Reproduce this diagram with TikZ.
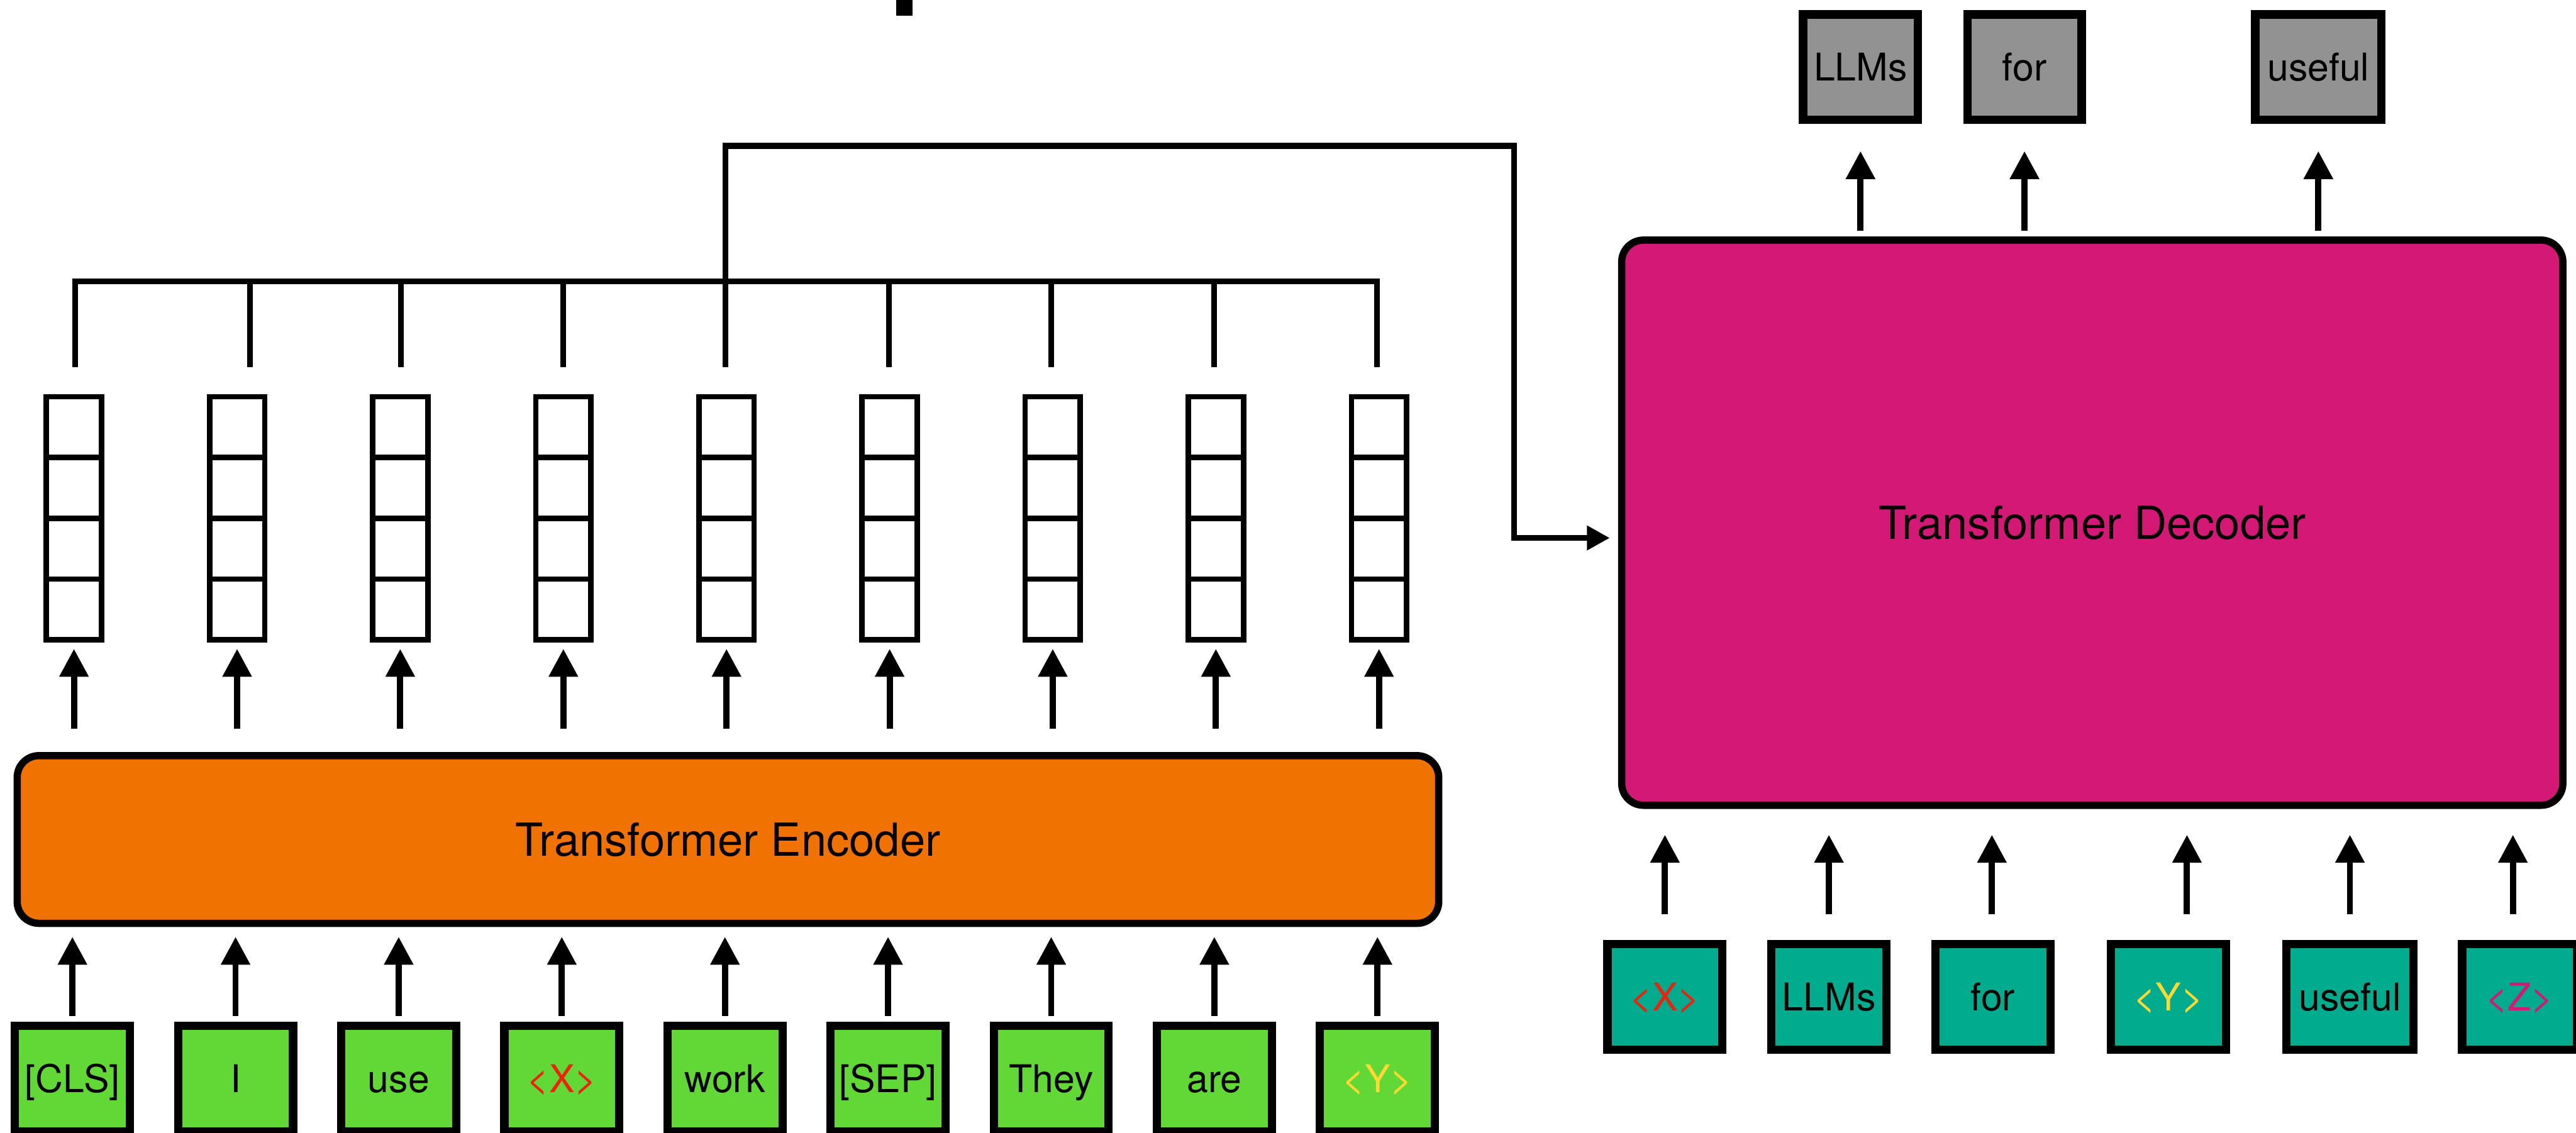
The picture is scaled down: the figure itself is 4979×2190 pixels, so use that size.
\documentclass[tikz,border=0pt]{standalone}
\usepackage{fontspec}
\setmainfont{TeX Gyre Heros}
\usetikzlibrary{arrows.meta}
\definecolor{tokgreen}{HTML}{61D836}
\definecolor{encorange}{HTML}{F07200}
\definecolor{decmagenta}{HTML}{D41876}
\definecolor{tokteal}{HTML}{00AB8E}
\definecolor{outgrey}{HTML}{929292}
\definecolor{mred}{HTML}{EE220C}
\definecolor{myellow}{HTML}{FFD932}
\begin{document}
\begin{tikzpicture}[x=0.01cm,y=-0.01cm,
  tok/.style={draw=black, line width=0.16cm, minimum width=2.22cm, minimum height=2.04cm,
    inner sep=0pt, text height=15.1pt, text depth=0pt, font=\fontsize{21}{25}\selectfont},
  vecbox/.style={draw=black, line width=0.105cm, minimum width=1.065cm, minimum height=4.70cm, inner sep=0pt},
  vecline/.style={line width=0.105cm},
  block/.style={draw=black, line width=0.14cm, rounded corners=0.42cm, inner sep=0pt,
    text height=18pt, text depth=0pt, font=\fontsize{25}{30}\selectfont},
  arr/.style={line width=0.12cm, -{Triangle[length=0.54cm,width=0.54cm]}},
  wire/.style={line width=0.11cm, line join=miter},
]
\useasboundingbox (0,0) rectangle (4979,2190);

% fragment at the top
\fill[black] (1732,0) rectangle (1764,30);

% encoder input tokens
\foreach \i/\txt/\col in {0/{[CLS]}/black, 1/I/black, 2/use/black, 3/{<X>}/mred, 4/work/black,
    5/{[SEP]}/black, 6/They/black, 7/are/black, 8/{<Y>}/myellow}
  \node[tok, fill=tokgreen, text=\col] (in\i) at ({140+315.3*\i},2085) {\txt};

% encoder
\node[block, fill=encorange, minimum width=27.46cm, minimum height=3.24cm] (enc) at (1407,1623) {Transformer Encoder};

\foreach \i in {0,...,8}
  \draw[arr, shorten <=0.1cm, shorten >=0.19cm] (in\i.north) -- (in\i.north |- enc.south);

% output vectors
\foreach \i in {0,...,8}{
  \node[vecbox] (v\i) at ({143+315.3*\i},1002) {};
  \draw[vecline] (v\i.west) -- (v\i.east);
  \draw[vecline] ([yshift=1.175cm]v\i.west) -- ([yshift=1.175cm]v\i.east);
  \draw[vecline] ([yshift=-1.175cm]v\i.west) -- ([yshift=-1.175cm]v\i.east);
  \draw[arr, shorten <=0.45cm, shorten >=0.12cm] (enc.north -| v\i) -- (v\i.south);
}

% bus above vectors
\foreach \i/\xx in {0/145, 1/483, 2/775, 3/1089, 4/1402, 5/1718, 6/2032, 7/2347, 8/2662}{
  \coordinate (bt\i) at (\xx,544);
  \coordinate (bb\i) at (\xx,710);
}
\draw[wire] (bb0) -- (bt0) -- (bt8) -- (bb8);
\foreach \i in {1,...,7}
  \draw[wire] (bb\i) -- (bt\i);

% decoder
\node[block, fill=decmagenta, minimum width=18.18cm, minimum height=10.92cm] (dec) at (4044,1010.5) {Transformer Decoder};

% connector from encoder outputs to decoder
\coordinate (c1) at (2926,282);
\coordinate (c2) at (2926,1040);
\draw[wire, -{Triangle[length=0.44cm,width=0.45cm]}, shorten >=0.16cm]
  (bt4) -- (bt4 |- c1) -- (c1) -- (c2) -- (c2 -| dec.west);

% decoder input tokens
\foreach \n/\xx/\w/\txt/\col/\dx in {d0/3218/2.22/{<X>}/mred/0, d1/3535/2.22/LLMs/black/0,
    d2/3852/2.22/for/black/-0.02, d3/4191/2.22/{<Y>}/myellow/0.36,
    d4/4542/2.45/useful/black/0, d5/4870/2.22/{<Z>}/decmagenta/-0.13}{
  \node[tok, fill=tokteal, text=\col, minimum width=\w cm] (\n) at (\xx,1927) {\txt};
  \draw[arr, shorten <=0.5cm, shorten >=0.5cm] ([xshift=\dx cm]\n.north) -- ([xshift=\dx cm]\n.north |- dec.south);
}

% decoder outputs
\foreach \n/\xx/\w/\txt in {o0/3596/2.22/LLMs, o1/3913/2.21/for, o2/4481/2.44/useful}{
  \node[tok, fill=outgrey, minimum width=\w cm] (\n) at (\xx,130) {\txt};
  \draw[arr, shorten <=0.11cm, shorten >=0.52cm] (dec.north -| \n) -- (\n.south);
}
\end{tikzpicture}
\end{document}
